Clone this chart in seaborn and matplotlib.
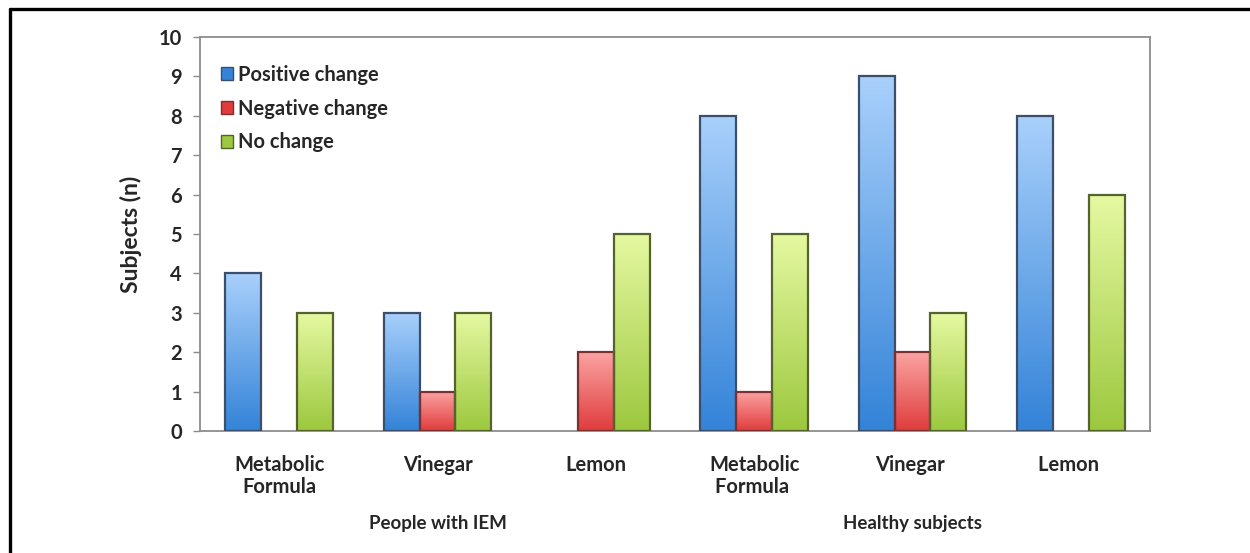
import numpy as np
import pandas as pd
import matplotlib
matplotlib.use("Agg")
import matplotlib.pyplot as plt
import seaborn as sns
from matplotlib.colors import LinearSegmentedColormap
from matplotlib.patches import Rectangle
from matplotlib.lines import Line2D
from matplotlib.legend_handler import HandlerBase

# ---- data ----
categories = ["Metabolic\nFormula", "Vinegar", "Lemon",
              "Metabolic\nFormula ", "Vinegar ", "Lemon "]
groups = ["People with IEM", "Healthy subjects"]
series = ["Positive change", "Negative change", "No change"]
positive = [4, 3, 0, 8, 9, 8]
negative = [0, 1, 2, 1, 2, 0]
no_change = [3, 3, 5, 5, 3, 6]

df = pd.DataFrame({
    "category": categories * 3,
    "series": [series[0]] * 6 + [series[1]] * 6 + [series[2]] * 6,
    "value": positive + negative + no_change,
})

# gradient colours (top, bottom) and edge colour per series
grad = {
    "Positive change": ("#a9d0fb", "#3383d8", "#3b4f6b"),
    "Negative change": ("#fba3a3", "#e03c3c", "#7a3030"),
    "No change": ("#e6f9a2", "#9cc83e", "#55632e"),
}

FS = 14.5

sns.set_theme(style="white")
plt.rcParams["font.family"] = ["Lato", "DejaVu Sans"]
plt.rcParams["font.weight"] = "bold"

fig = plt.figure(figsize=(12.5, 5.53), dpi=100)
ax = fig.add_axes([0.16, 0.2206, 0.76, 0.7125])

palette = {s: grad[s][1] for s in series}
sns.barplot(data=df, x="category", y="value", hue="series", order=categories,
            hue_order=series, palette=palette, width=0.68, ax=ax,
            legend=False, linewidth=0, saturation=1)

ax.set_ylim(0, 10)
ax.set_xlim(-0.5, 5.5)


def gradient_fill(target, patch, cmap, extent, zorder):
    g = np.linspace(0, 1, 256).reshape(-1, 1)
    im = target.imshow(g, cmap=cmap, aspect="auto", origin="lower",
                       extent=extent, zorder=zorder)
    im.set_clip_path(patch)
    return im


# replace flat fills with vertical gradients clipped to each bar
for container, s in zip(ax.containers, series):
    top, bottom, edge = grad[s]
    cmap = LinearSegmentedColormap.from_list(s, [bottom, top])
    for bar in container:
        h = bar.get_height()
        if h <= 0:
            bar.set_visible(False)
            continue
        x0, w = bar.get_x(), bar.get_width()
        bar.set_facecolor("none")
        bar.set_edgecolor(edge)
        bar.set_linewidth(1.6)
        bar.set_zorder(3)
        gradient_fill(ax, bar, cmap, [x0, x0 + w, 0, h], 2)

ax.set_xlim(-0.5, 5.5)
ax.set_ylim(0, 10)

# axes styling
for sp in ax.spines.values():
    sp.set_visible(True)
    sp.set_color("#8c8c8c")
    sp.set_linewidth(1.3)
ax.set_yticks(range(0, 11))
ax.tick_params(axis="y", which="major", left=True, length=5, width=1,
               color="#8c8c8c", pad=8, labelsize=FS)
ax.tick_params(axis="x", length=0, pad=17, labelsize=FS)
for lab in ax.get_xticklabels() + ax.get_yticklabels():
    lab.set_fontweight("bold")
    lab.set_linespacing(1.15)
ax.set_xlabel("")
ax.set_ylabel("Subjects (n)", fontsize=16.5, fontweight="bold", labelpad=12)

# group labels beneath the categories
for gname, xc in zip(groups, [1, 4]):
    ax.text(xc, -0.235, gname, transform=ax.get_xaxis_transform(),
            ha="center", va="center", fontsize=13.5, fontweight="bold")


class GradientSquare(HandlerBase):
    def create_artists(self, legend, orig_handle, xdescent, ydescent,
                       width, height, fontsize, trans):
        top, bottom, edge = orig_handle.grad
        rect = Rectangle((-xdescent, -ydescent), width, height,
                         facecolor=bottom, edgecolor=edge, linewidth=1,
                         transform=trans)
        return [rect]


# legend with small square swatches
handles = []
for s in series:
    r = Rectangle((0, 0), 1, 1)
    r.grad = grad[s]
    handles.append(r)
leg = ax.legend(handles, series, loc="upper left", bbox_to_anchor=(0.003, 0.975),
                frameon=False, handlelength=0.6, handleheight=0.6,
                handletextpad=0.25, labelspacing=0.68,
                handler_map={Rectangle: GradientSquare()},
                prop={"weight": "bold", "size": FS})

# outer frame lines (top and left)
fig.add_artist(Line2D([0.008, 1.0], [0.984, 0.984], color="black", lw=2.4,
                      transform=fig.transFigure))
fig.add_artist(Line2D([0.008, 0.008], [0.0, 0.984], color="black", lw=2.4,
                      transform=fig.transFigure))

fig.savefig("out.png", dpi=100, facecolor="white")
